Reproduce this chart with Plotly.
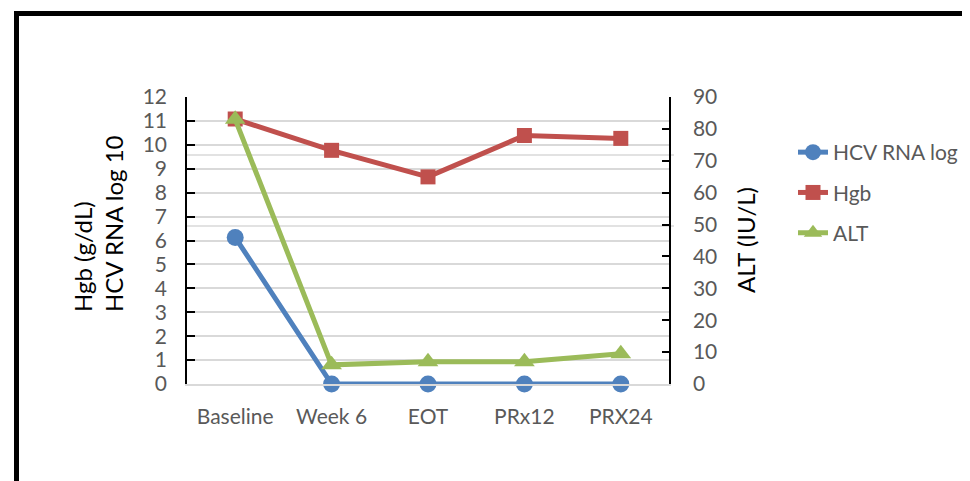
import plotly.graph_objects as go

categories = ["Baseline", "Week 6", "EOT", "PRx12", "PRX24"]
hcv_rna_log = [6.13, 0, 0, 0, 0]
hgb = [11.08, 9.77, 8.66, 10.39, 10.27]
alt = [83, 6, 7, 7, 9.5]

left_ticks = list(range(0, 13))
right_ticks = list(range(0, 91, 10))

# the page body adds an 8px offset; target pixel coords are window coords
OFF = 8
W, H = 970, 481
PW, PH = 482, 287
ML, MT = 187 - OFF, 97 - OFF
MR, MB = W - ML - PW, H - MT - PH

def px_x(x):
    return (x - OFF - ML) / PW

def px_y(y):
    return (MT + PH - (y - OFF)) / PH

FONT = "Lato"
GREY = "#595959"
FS = 21

fig = go.Figure()
fig.add_trace(go.Scatter(x=categories, y=hcv_rna_log, name="HCV RNA log", mode="lines+markers",
                         line=dict(color="#4f81bd", width=5),
                         marker=dict(symbol="circle", size=17, color="#4f81bd"),
                         legendgroup="a", cliponaxis=False))
fig.add_trace(go.Scatter(x=categories, y=hgb, name="Hgb", mode="lines+markers",
                         line=dict(color="#c0504d", width=5),
                         marker=dict(symbol="square", size=15, color="#c0504d"),
                         legendgroup="b", cliponaxis=False))
fig.add_trace(go.Scatter(x=categories, y=alt, name="ALT", mode="lines+markers",
                         line=dict(color="#9bbb59", width=5),
                         marker=dict(symbol="triangle-up", size=18, color="#9bbb59"),
                         yaxis="y2", legendgroup="c", cliponaxis=False))

fig.update_layout(
    width=W, height=H,
    margin=dict(l=ML, r=MR, t=MT, b=MB),
    paper_bgcolor="white", plot_bgcolor="white",
    font=dict(family=FONT, size=FS, color=GREY),
    showlegend=True,
    legend=dict(x=px_x(793), y=px_y(132), xanchor="left", yanchor="top",
                font=dict(family=FONT, size=FS, color=GREY),
                tracegroupgap=10, bgcolor="rgba(0,0,0,0)"),
    xaxis=dict(type="category", range=[-0.5, 4.5], showgrid=False, showline=True,
               linecolor="#d9d9d9", linewidth=1.5,
               ticks="", tickfont=dict(family=FONT, size=FS, color=GREY),
               ticklabelstandoff=13, zeroline=False),
    yaxis=dict(range=[0, 12], tickvals=left_ticks, showgrid=True, gridcolor="#d9d9d9", gridwidth=1.5,
               showline=True, linecolor="black", linewidth=1.5, ticks="inside", ticklen=8,
               tickcolor="black", tickwidth=1.5, zeroline=False,
               tickfont=dict(family=FONT, size=FS, color=GREY), ticklabelstandoff=14),
    yaxis2=dict(range=[0, 90], tickvals=right_ticks, overlaying="y", side="right", showgrid=False,
                showline=True, linecolor="black", linewidth=1.5, ticks="inside", ticklen=7,
                tickcolor="black", tickwidth=1.5, zeroline=False,
                tickfont=dict(family=FONT, size=FS, color=GREY), ticklabelstandoff=18),
)

# frame (top and left edges)
fig.add_shape(type="line", xref="paper", yref="paper", x0=px_x(14), x1=px_x(985),
              y0=px_y(13.5), y1=px_y(13.5), line=dict(color="black", width=5))
fig.add_shape(type="line", xref="paper", yref="paper", x0=px_x(16.5), x1=px_x(16.5),
              y0=px_y(11), y1=px_y(495), line=dict(color="black", width=5))
# stray light lines
for yy in (155, 226):
    fig.add_shape(type="line", xref="paper", yref="paper", x0=px_x(187), x1=px_x(674),
                  y0=px_y(yy), y1=px_y(yy), line=dict(color="#d9d9d9", width=1.5),
                  layer="below")

# axis titles
fig.add_annotation(text="Hgb (g/dL)<br>HCV RNA log 10", xref="paper", yref="paper",
                   x=px_x(98), y=px_y(224), xanchor="center", yanchor="middle",
                   textangle=-90, align="left", showarrow=False,
                   font=dict(family=FONT, size=24, color="black"))
fig.add_annotation(text="ALT (IU/L)", xref="paper", yref="paper",
                   x=px_x(745), y=px_y(240), xanchor="center", yanchor="middle",
                   textangle=-90, showarrow=False,
                   font=dict(family=FONT, size=24, color="black"))

fig.write_html("out.html")
